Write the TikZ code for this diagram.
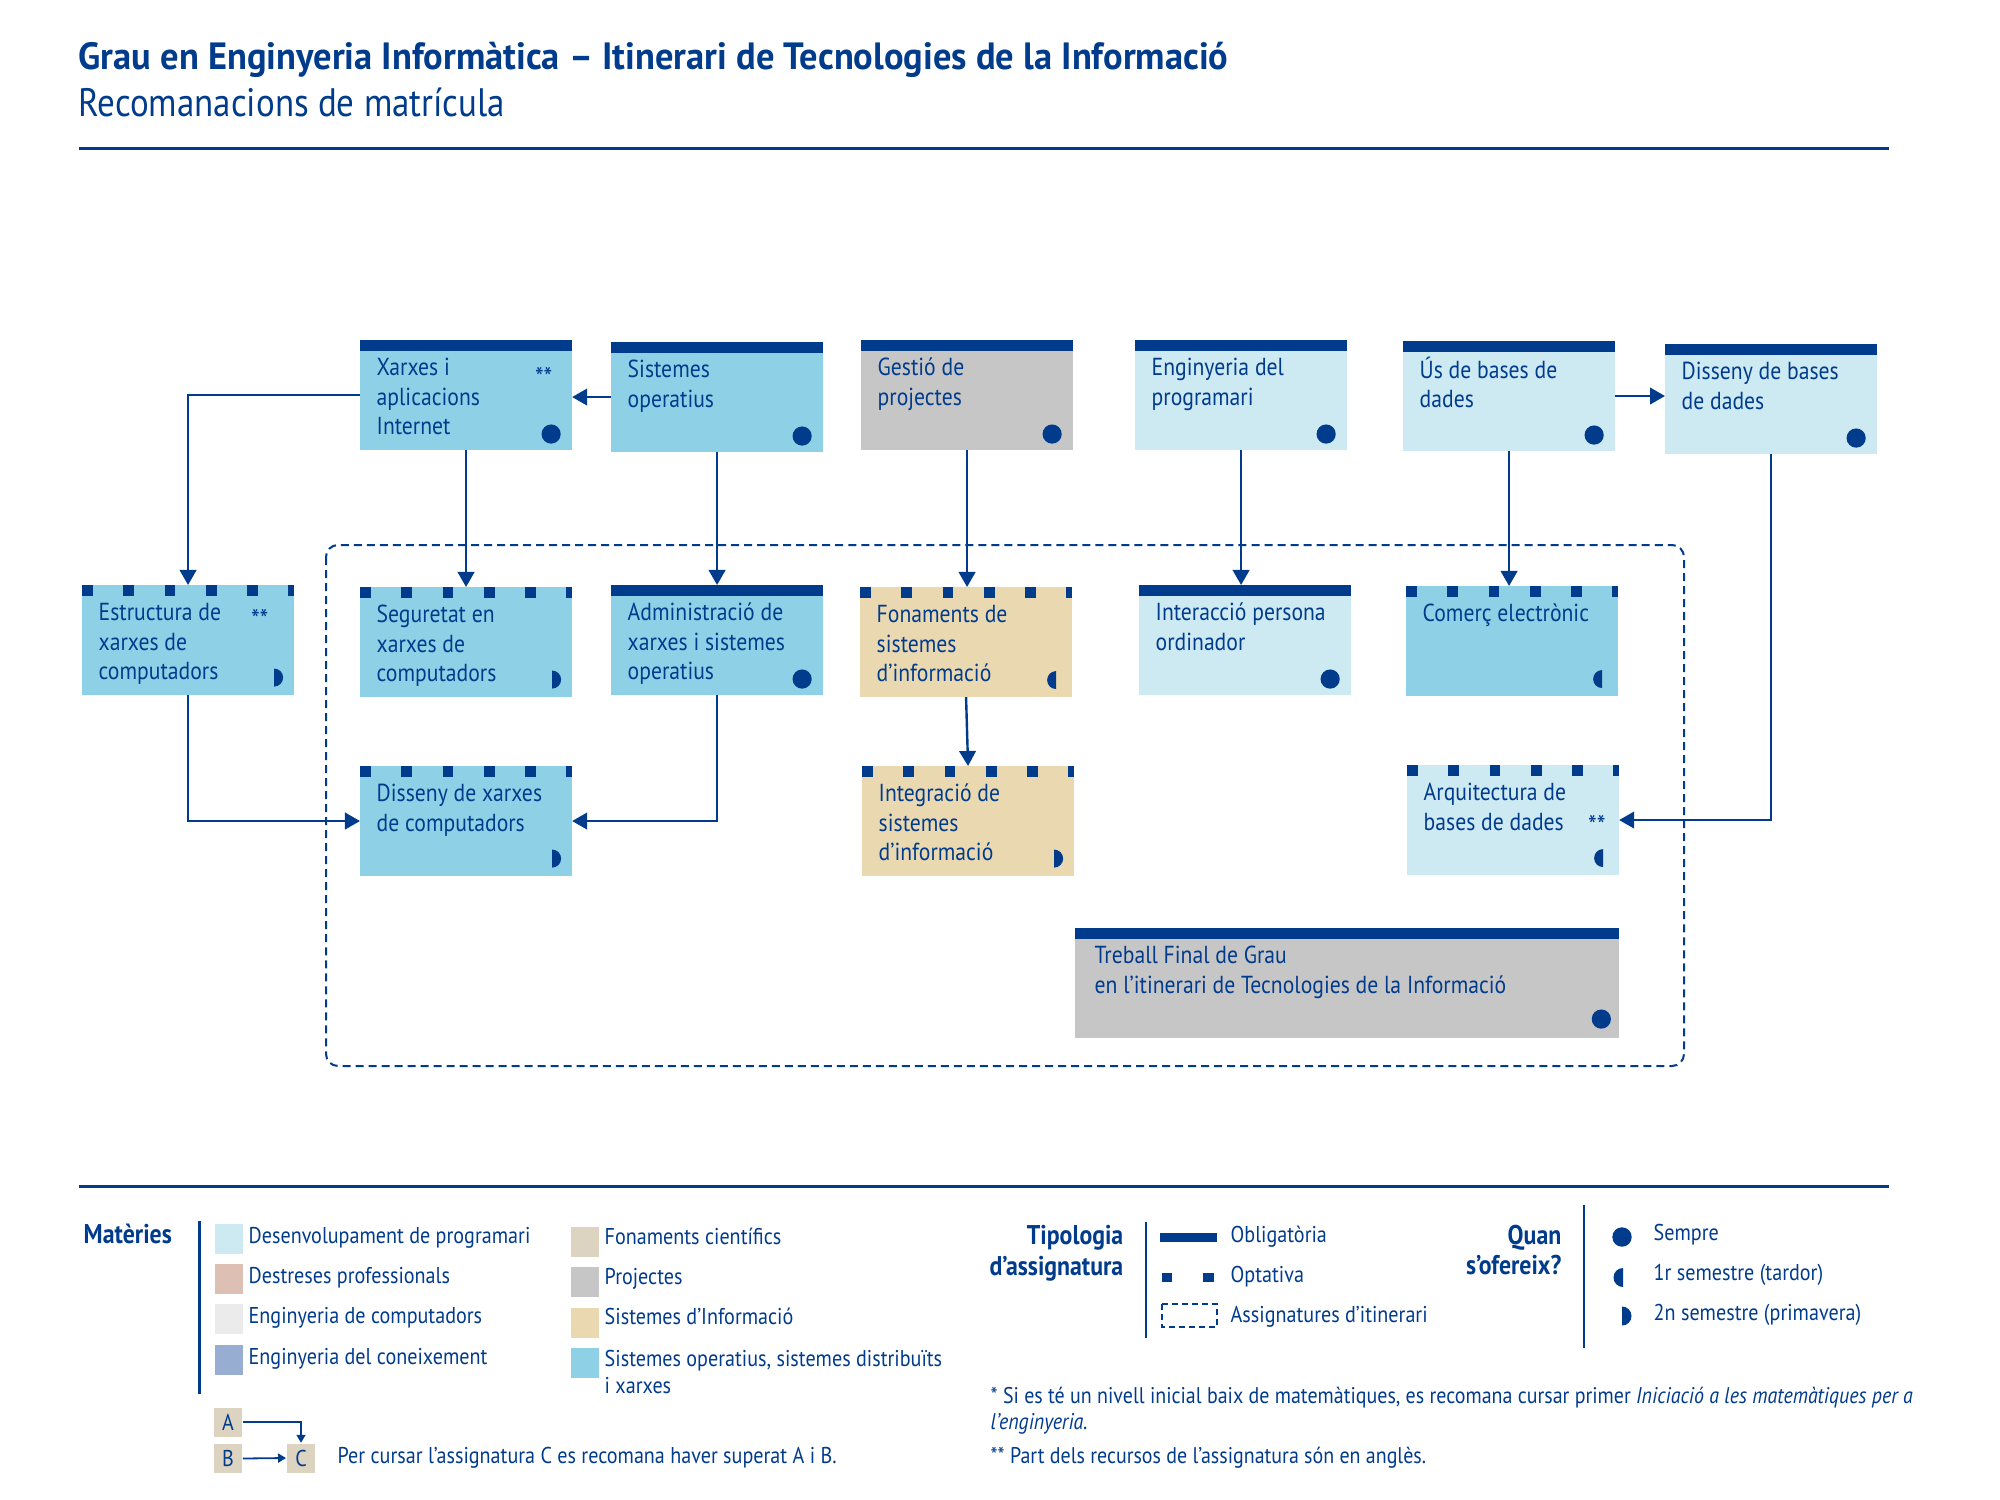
\documentclass[tikz,border=0pt]{standalone}
\usepackage{fontspec}
\setmainfont{PT Sans}[FakeStretch=0.88]
\newfontfamily\titlefam{PT Sans}[FakeStretch=0.96]
\usetikzlibrary{arrows.meta}

\definecolor{navy}{RGB}{0,59,140}
\definecolor{sosd}{RGB}{142,209,230}
\definecolor{dprog}{RGB}{205,233,242}
\definecolor{proj}{RGB}{198,198,198}
\definecolor{sinf}{RGB}{234,217,176}
\definecolor{fcie}{RGB}{221,211,193}
\definecolor{dprof}{RGB}{222,191,180}
\definecolor{ecomp}{RGB}{235,235,235}
\definecolor{econ}{RGB}{151,173,209}

\newcommand\titlefont{\titlefam\fontsize{10.8}{13}\selectfont\bfseries}
\newcommand\subfont{\fontsize{11.3}{13.5}\selectfont}
\newcommand\boxfont{\fontsize{7}{8.4}\selectfont}
\newcommand\astfont{\fontsize{8}{9}\selectfont}
\newcommand\legfont{\fontsize{6.5}{7.4}\selectfont}
\newcommand\leghead{\fontsize{7.7}{8.8}\selectfont\bfseries}
\newcommand\notefont{\fontsize{6.45}{7.4}\selectfont}

% course box: filled rectangle plus its caption
\newcommand\course[5]{%
  \node[#1, fill=#4] (#2) at (#3) {};
  \node[ctext] (#2-t) at ([shift={(16,15)}]#2.north west) {\rule{0pt}{0.2cm}#5};
}
% when the course is offered
\newcommand\always[1]{\fill[navy] ([shift={(-21,-16)}]#1.south east) circle[radius=0.096cm];}
\newcommand\autumn[1]{\fill[navy] ([shift={(-16,-26)}]#1.south east) arc[start angle=90, end angle=270, radius=0.09cm] -- cycle;}
\newcommand\spring[1]{\fill[navy] ([shift={(-20,-26.5)}]#1.south east) arc[start angle=90, end angle=-90, radius=0.09cm] -- cycle;}

\begin{document}
\begin{tikzpicture}[x=0.01cm, y=-0.01cm,
  course/.style={rectangle, anchor=north west, inner sep=0pt, outer sep=0pt,
    minimum width=2.12cm, minimum height=1.10cm},
  obl/.style={course, path picture={\fill[navy] (path picture bounding box.north west)
    rectangle ([yshift=-0.105cm]path picture bounding box.north east);}},
  opt/.style={course, path picture={\draw[navy, line width=0.107cm, dash pattern=on 0.107cm off 0.3055cm]
    ([yshift=-0.0535cm]path picture bounding box.north west) --
    ([yshift=-0.0535cm]path picture bounding box.north east);}},
  ctext/.style={anchor=north west, inner sep=0pt, align=left, font=\boxfont, text=navy},
  ast/.style={anchor=base east, inner sep=0pt, font=\astfont, text=navy},
  conn/.style={draw=navy, line width=0.024cm, -{Triangle[length=0.15cm, width=0.165cm]}},
  smallconn/.style={draw=navy, line width=0.018cm, -{Triangle[length=0.08cm, width=0.09cm]}},
  itin/.style={draw=navy, line width=0.02cm, dash pattern=on 0.08cm off 0.05cm, rounded corners=0.12cm},
  hdr/.style={anchor=base west, inner sep=0pt, text=navy},
  ltext/.style={anchor=base west, inner sep=0pt, font=\legfont, text=navy},
  ltop/.style={anchor=north west, inner sep=0pt, align=left, font=\legfont, text=navy},
  lhead/.style={anchor=north east, inner sep=0pt, align=right, font=\leghead, text=navy},
  swatch/.style={anchor=north west, inner sep=0pt, minimum width=0.28cm, minimum height=0.30cm},
  abc/.style={inner sep=0pt, minimum width=0.285cm, minimum height=0.29cm, fill=fcie, font=\legfont, text=navy},
  rule/.style={draw=navy, line width=0.03cm},
  vbar/.style={draw=navy, line width=0.025cm}
]
\useasboundingbox (0,0) rectangle (2000,1500);

% header
\node[hdr, font=\titlefont] (title) at (78,70) {Grau en Enginyeria Informàtica – Itinerari de Tecnologies de la Informació};
\node[hdr, font=\subfont] (subtitle) at (78,117) {Recomanacions de matrícula};
\draw[rule] (79,149) -- (1889,149);

% itinerary frame
\draw[itin] (326,545) rectangle (1684,1066);

% first row
\course{obl}{xai}{360,340}{sosd}{Xarxes i\\aplicacions\\Internet}
\course{obl}{so}{611,342}{sosd}{Sistemes\\operatius}
\course{obl}{gp}{861,340}{proj}{Gestió de\\projectes}
\course{obl}{ep}{1135,340}{dprog}{Enginyeria del\\programari}
\course{obl}{ubd}{1403,341}{dprog}{Ús de bases de\\dades}
\course{obl}{dbd}{1665,344}{dprog}{Disseny de bases\\de dades}

% second row
\course{opt}{edc}{82,585}{sosd}{Estructura de\\xarxes de\\computadors}
\course{opt}{sxc}{360,587}{sosd}{Seguretat en\\xarxes de\\computadors}
\course{obl}{axs}{611,585}{sosd}{Administració de\\xarxes i sistemes\\operatius}
\course{opt}{fsi}{860,587}{sinf}{Fonaments de\\sistemes\\d’informació}
\course{obl}{ipo}{1139,585}{dprog}{Interacció persona\\ordinador}
\course{opt}{ce}{1406,586}{sosd}{Comerç electrònic}

% third row
\course{opt}{dxc}{360,766}{sosd}{Disseny de xarxes\\de computadors}
\course{opt}{isi}{862,766}{sinf}{Integració de\\sistemes\\d’informació}
\course{opt}{abd}{1407,765}{dprog}{Arquitectura de\\bases de dades}

% final project
\node[obl, minimum width=5.44cm, fill=proj] (tfg) at (1075,928) {};
\node[ctext] (tfg-t) at ([shift={(19,15)}]tfg.north west) {\rule{0pt}{0.2cm}Treball Final de Grau\\en l’itinerari de Tecnologies de la Informació};

% English resources
\node[ast] (xai-a) at ([shift={(-19,47)}]xai.north east) {**};
\node[ast] (edc-a) at ([shift={(-25,44)}]edc.north east) {**};
\node[ast] (abd-a) at ([shift={(-13,70.5)}]abd.north east) {**};

% semesters
\always{xai}\always{so}\always{gp}\always{ep}\always{ubd}\always{dbd}
\always{axs}\always{ipo}
\fill[navy] ([shift={(-18,-19)}]tfg.south east) circle[radius=0.096cm];
\spring{edc}\spring{sxc}\spring{dxc}\spring{isi}
\autumn{fsi}\autumn{ce}\autumn{abd}

% recommended order
\draw[conn] (xai.west) -| (edc.north);
\draw[conn] (so.west) -- (so.west -| xai.east);
\draw[conn] (xai.south) -- (xai.south |- sxc.north);
\draw[conn] (so.south) -- (so.south |- axs.north);
\draw[conn] (gp.south) -- (gp.south |- fsi.north);
\draw[conn] (ep.south) -- (ep.south |- ipo.north);
\draw[conn] (ubd.south) -- (ubd.south |- ce.north);
\draw[conn] (ubd.east) -- (ubd.east -| dbd.west);
\draw[conn] (dbd.south) |- (abd.east);
\draw[conn] (edc.south) |- (dxc.west);
\draw[conn] (axs.south) |- (dxc.east);
\draw[conn] (fsi.south) -- (isi.north);

% legend
\draw[rule] (79,1186) -- (1889,1186);

\node[hdr, font=\leghead] (mat) at (83,1243) {Matèries};
\draw[vbar] (199.5,1221) -- (199.5,1394);

\node[swatch, fill=dprog] (m1) at (214,1223) {};
\node[swatch, fill=dprof] (m2) at (214,1263) {};
\node[swatch, fill=ecomp] (m3) at (214,1303) {};
\node[swatch, fill=econ] (m4) at (214,1344) {};
\node[ltext] (m1-t) at (248,1243) {Desenvolupament de programari};
\node[ltext] (m2-t) at (248,1283) {Destreses professionals};
\node[ltext] (m3-t) at (248,1323) {Enginyeria de computadors};
\node[ltext] (m4-t) at (248,1364) {Enginyeria del coneixement};

\node[swatch, fill=fcie] (m5) at (570,1226) {};
\node[swatch, fill=proj] (m6) at (570,1266) {};
\node[swatch, fill=sinf] (m7) at (570,1307) {};
\node[swatch, fill=sosd] (m8) at (570,1347) {};
\node[ltext] (m5-t) at (604,1244) {Fonaments científics};
\node[ltext] (m6-t) at (604,1284) {Projectes};
\node[ltext] (m7-t) at (604,1324) {Sistemes d’Informació};
\node[ltop] (m8-t) at (604,1350) {\rule{0pt}{0.15cm}Sistemes operatius, sistemes distribuïts\\i xarxes};

% prerequisite example
\node[abc] (A) at (228,1422) {A};
\node[abc] (B) at (228,1458.5) {B};
\node[abc] (C) at (301,1458) {C};
\draw[smallconn] (A.east) -| (C.north);
\draw[smallconn] (B.east) -- (C.west);
\node[ltext] (abc-t) at (337,1463) {Per cursar l’assignatura C es recomana haver superat A i B.};

% course type
\node[lhead] (tip) at (1124,1225) {\rule{0pt}{0.18cm}Tipologia\\d’assignatura};
\draw[vbar] (1146,1222) -- (1146,1338);
\fill[navy] (1160,1233) rectangle (1217,1242);
\fill[navy] (1162,1273) rectangle (1172,1282);
\fill[navy] (1203,1273) rectangle (1214,1282);
\draw[navy, line width=0.018cm, dash pattern=on 0.06cm off 0.04cm] (1162,1304) rectangle (1217,1327);
\node[ltext] (t1) at (1230,1242) {Obligatòria};
\node[ltext] (t2) at (1230,1282) {Optativa};
\node[ltext] (t3) at (1230,1322) {Assignatures d’itinerari};

% when offered
\node[lhead] (quan) at (1562,1224) {\rule{0pt}{0.18cm}Quan\\s’ofereix?};
\draw[vbar] (1584,1205) -- (1584,1348);
\fill[navy] (1622,1237) circle[radius=0.097cm];
\fill[navy] (1623,1268) arc[start angle=90, end angle=270, radius=0.095cm] -- cycle;
\fill[navy] (1622,1306.5) arc[start angle=90, end angle=-90, radius=0.095cm] -- cycle;
\node[ltext] (q1) at (1653,1240) {Sempre};
\node[ltext] (q2) at (1653,1280) {1r semestre (tardor)};
\node[ltext] (q3) at (1653,1320) {2n semestre (primavera)};

% notes
\node[anchor=north west, inner sep=0pt, align=left, font=\notefont, text=navy] (n1) at (990,1386)
  {\rule{0pt}{0.16cm}* Si es té un nivell inicial baix de matemàtiques, es recomana cursar primer \textit{Iniciació a les matemàtiques per a}\\\textit{l’enginyeria.}};
\node[anchor=base west, inner sep=0pt, font=\notefont, text=navy] (n2) at (990,1463)
  {** Part dels recursos de l’assignatura són en anglès.};
\end{tikzpicture}
\end{document}
